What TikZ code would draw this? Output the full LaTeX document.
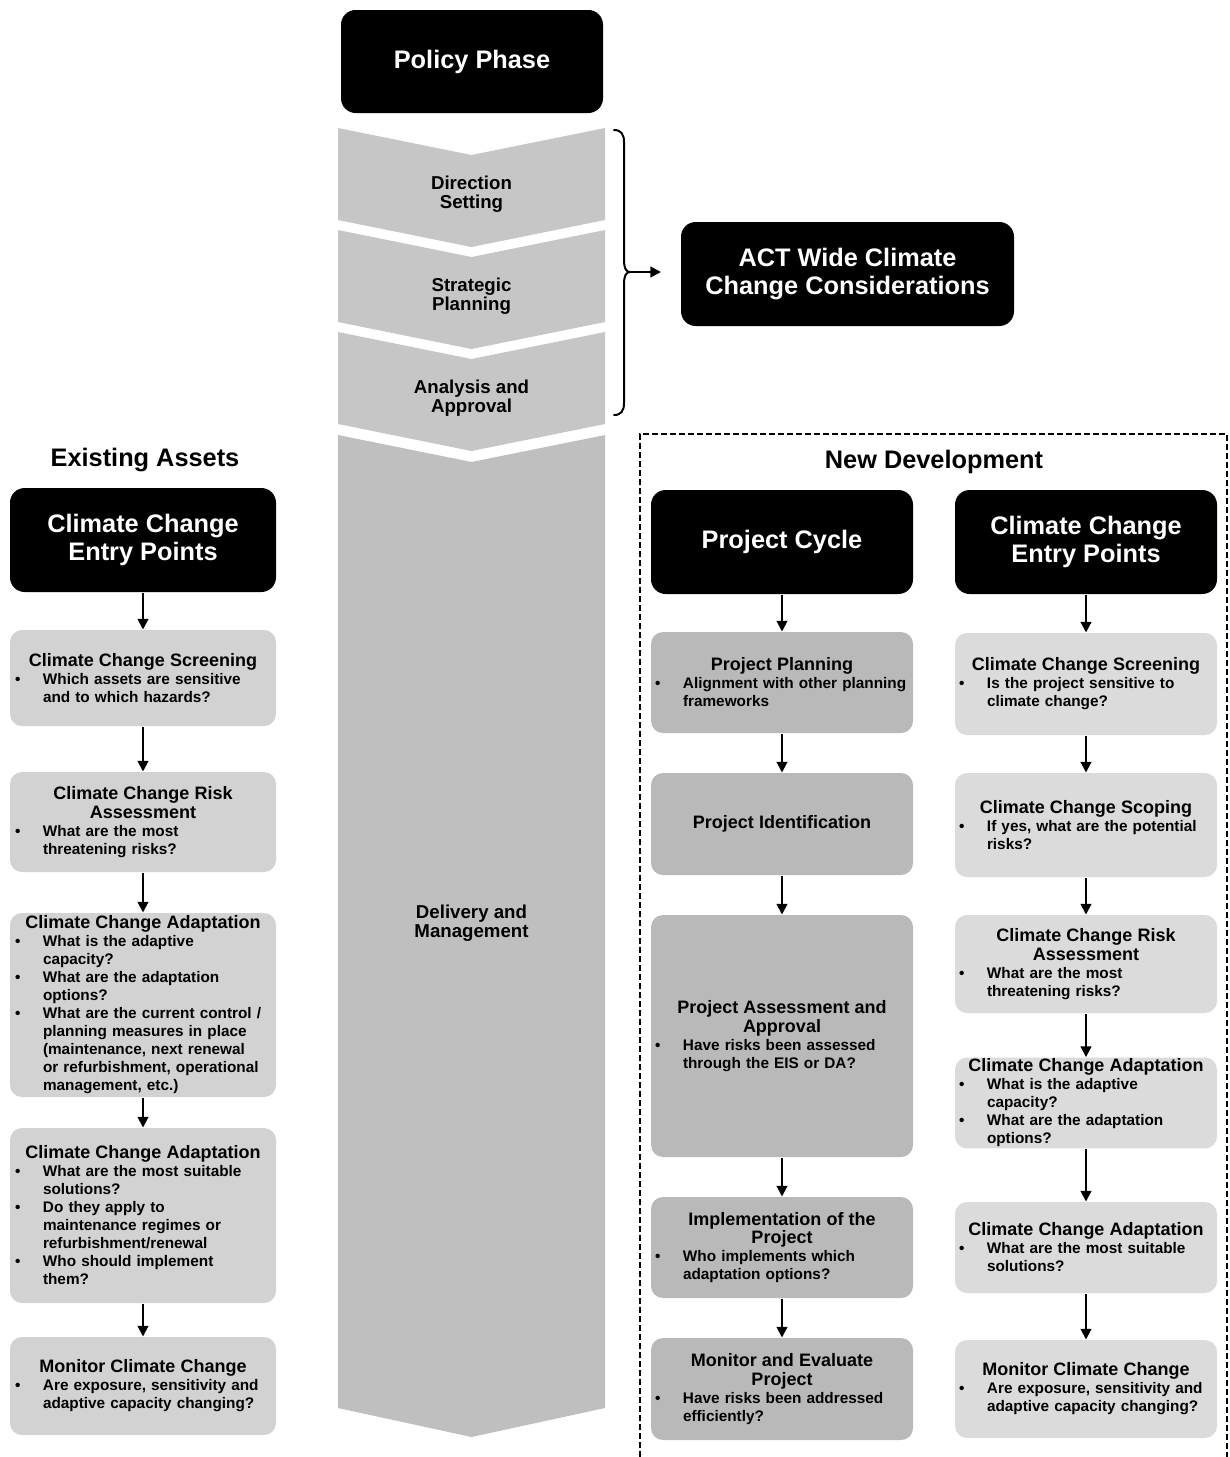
\documentclass[tikz,border=0pt]{standalone}
\usepackage{fontspec}
\setmainfont{Liberation Sans}
\usetikzlibrary{arrows.meta}

\tikzset{every picture/.style={line width=0.75pt}}
\tikzset{
  darkbox/.style={fill=black, text=white, rounded corners=11pt, align=center, inner sep=2pt, font=\bfseries\fontsize{19}{20.5}\selectfont},
  stepbox/.style={rounded corners=9pt, align=left, inner xsep=3pt, inner ysep=1pt, font=\bfseries\fontsize{11.5}{13.5}\selectfont},
  lstep/.style={stepbox, fill=gray!35, minimum width=199.5pt, text width=192pt},
  pstep/.style={stepbox, fill=gray!55, minimum width=196.5pt, text width=190.5pt},
  rstep/.style={stepbox, fill=gray!28, minimum width=196.5pt, text width=190.5pt},
  chevtext/.style={align=center, font=\bfseries\fontsize{14}{14.25}\selectfont},
  coltitle/.style={font=\bfseries\fontsize{19}{20}\selectfont},
  arr/.style={line width=1.5pt, -{Triangle[length=8pt,width=8pt]}},
}
\newcommand\hd[1]{{\centering\fontsize{13.5}{14}\selectfont #1\par}}
\newcommand\itm[1]{\par{\raggedright\let\\\newline\hangindent=21pt\hangafter=1\noindent\makebox[21pt][l]{\textbullet}#1\par}}

\begin{document}
\begin{tikzpicture}[x=0.75pt,y=0.75pt,yscale=-1,xscale=1]
	\useasboundingbox (0,0) rectangle (1229,1457);

	%Shape: Chevron [Direction Setting]
	\fill [gray!45] (338,128) -- (471.5,155) -- (605,128) -- (605,220) -- (471.5,247) -- (338,220) -- cycle ;
	%Shape: Chevron [Strategic Planning]
	\fill [gray!45] (338,230) -- (471.5,257) -- (605,230) -- (605,322) -- (471.5,349) -- (338,322) -- cycle ;
	%Shape: Chevron [Analysis and Approval]
	\fill [gray!45] (338,332) -- (471.5,359) -- (605,332) -- (605,424) -- (471.5,451) -- (338,424) -- cycle ;
	%Shape: Chevron [Delivery and Management]
	\fill [gray!50] (338,435) -- (471.5,462) -- (605,435) -- (605,1408) -- (471.5,1437) -- (338,1408) -- cycle ;

	% Text Node
	\draw (471.5,194) node [chevtext] (dir) {Direction\\Setting};
	% Text Node
	\draw (471.5,296) node [chevtext] (strat) {Strategic\\Planning};
	% Text Node
	\draw (471.5,398) node [chevtext] (anal) {Analysis and\\Approval};
	% Text Node
	\draw (471.5,923) node [chevtext] (deliv) {Delivery and\\Management};

	%Rounded Rect [Policy Phase]
	\draw (472,61.5) node [darkbox, minimum width=196.5pt, minimum height=77.25pt] (policy) {Policy Phase};
	%Rounded Rect [ACT wide]
	\draw (847.5,274) node [darkbox, minimum width=249.75pt, minimum height=78pt] (act) {ACT Wide Climate\\Change Considerations};

	%Curve Lines (brace)
	\draw [line width=1.5pt, line cap=round] (614,130) .. controls (621,130) and (624,134) .. (624,142) -- (624,260) .. controls (624,268) and (626,272) .. (630,272) .. controls (626,272) and (624,276) .. (624,284) -- (624,403) .. controls (624,411) and (621,415) .. (614,415) ;
	\coordinate (brace) at (630,272);
	\coordinate (actin) at (661,272);
	%Straight Lines
	\draw [arr] (brace) -- (actin) ;

	% Text Node
	\draw (145,460) node [coltitle] (exist) {Existing Assets};
	% Text Node
	\draw (934,462) node [coltitle] (newdev) {New Development};

	%Dashed frame
	\draw [line width=1.1pt, dash pattern={on 4.5pt off 2.25pt}] (640,1457) -- (640,434) -- (1227,434) -- (1227,1457) ;

	%Rounded Rect [headers]
	\draw (143,540) node [darkbox, minimum width=199.5pt, minimum height=78pt] (lhead) {Climate Change\\Entry Points};
	\draw (782,542) node [darkbox, minimum width=196.5pt, minimum height=78pt] (phead) {Project Cycle};
	\draw (1086,542) node [darkbox, minimum width=196.5pt, minimum height=78pt] (rhead) {Climate Change\\Entry Points};

	%Existing assets column
	\draw (143,678) node [lstep, minimum height=72pt] (l1) {\hd{Climate Change Screening}\itm{Which assets are sensitive\\and to which hazards?}};
	\draw (143,822) node [lstep, minimum height=75pt] (l2) {\hd{Climate Change Risk\\Assessment}\itm{What are the most\\threatening risks?}};
	\draw (143,1005) node [lstep, minimum height=138pt] (l3) {\hd{Climate Change Adaptation}\itm{What is the adaptive\\capacity?}\itm{What are the adaptation\\options?}\itm{What are the current control /\\planning measures in place\\(maintenance, next renewal\\or refurbishment, operational\\management, etc.)}};
	\draw (143,1215.5) node [lstep, minimum height=131.25pt] (l4) {\hd{Climate Change Adaptation}\itm{What are the most suitable\\solutions?}\itm{Do they apply to\\maintenance regimes or\\refurbishment/renewal}\itm{Who should implement\\them?}};
	\draw (143,1386) node [lstep, minimum height=73.5pt] (l5) {\hd{Monitor Climate Change}\itm{Are exposure, sensitivity and\\adaptive capacity changing?}};

	%Project cycle column
	\draw (782,682.5) node [pstep, minimum height=75.75pt] (p1) {\hd{Project Planning}\itm{Alignment with other planning\\frameworks}};
	\draw (782,824) node [pstep, minimum height=76.5pt] (p2) {\hd{Project Identification}};
	\draw (782,1036) node [pstep, minimum height=181.5pt] (p3) {\hd{Project Assessment and\\Approval}\itm{Have risks been assessed\\through the EIS or DA?}};
	\draw (782,1247.5) node [pstep, minimum height=75.75pt] (p4) {\hd{Implementation of the\\Project}\itm{Who implements which\\adaptation options?}};
	\draw (782,1389) node [pstep, minimum height=76.5pt] (p5) {\hd{Monitor and Evaluate\\Project}\itm{Have risks been addressed\\efficiently?}};

	%New development entry points column
	\draw (1086,684) node [rstep, minimum height=76.5pt] (r1) {\hd{Climate Change Screening}\itm{Is the project sensitive to\\climate change?}};
	\draw (1086,825) node [rstep, minimum height=78pt] (r2) {\hd{Climate Change Scoping}\itm{If yes, what are the potential\\risks?}};
	\draw (1086,964) node [rstep, minimum height=73.5pt] (r3) {\hd{Climate Change Risk\\Assessment}\itm{What are the most\\threatening risks?}};
	\draw (1086,1103) node [rstep, minimum height=67.5pt] (r4) {\hd{Climate Change Adaptation}\itm{What is the adaptive\\capacity?}\itm{What are the adaptation\\options?}};
	\draw (1086,1247.5) node [rstep, minimum height=68.25pt] (r5) {\hd{Climate Change Adaptation}\itm{What are the most suitable\\solutions?}};
	\draw (1086,1389) node [rstep, minimum height=73.5pt] (r6) {\hd{Monitor Climate Change}\itm{Are exposure, sensitivity and\\adaptive capacity changing?}};

	%Straight Lines (arrows)
	\draw [arr] (lhead) -- (l1) ;
	\draw [arr] (l1) -- (l2) ;
	\draw [arr] (l2) -- (l3) ;
	\draw [arr] (l3) -- (l4) ;
	\draw [arr] (l4) -- (l5) ;
	\draw [arr] (phead) -- (p1) ;
	\draw [arr] (p1) -- (p2) ;
	\draw [arr] (p2) -- (p3) ;
	\draw [arr] (p3) -- (p4) ;
	\draw [arr] (p4) -- (p5) ;
	\draw [arr] (rhead) -- (r1) ;
	\draw [arr] (r1) -- (r2) ;
	\draw [arr] (r2) -- (r3) ;
	\draw [arr] (r3) -- (r4) ;
	\draw [arr] (r4) -- (r5) ;
	\draw [arr] (r5) -- (r6) ;

\end{tikzpicture}
\end{document}
